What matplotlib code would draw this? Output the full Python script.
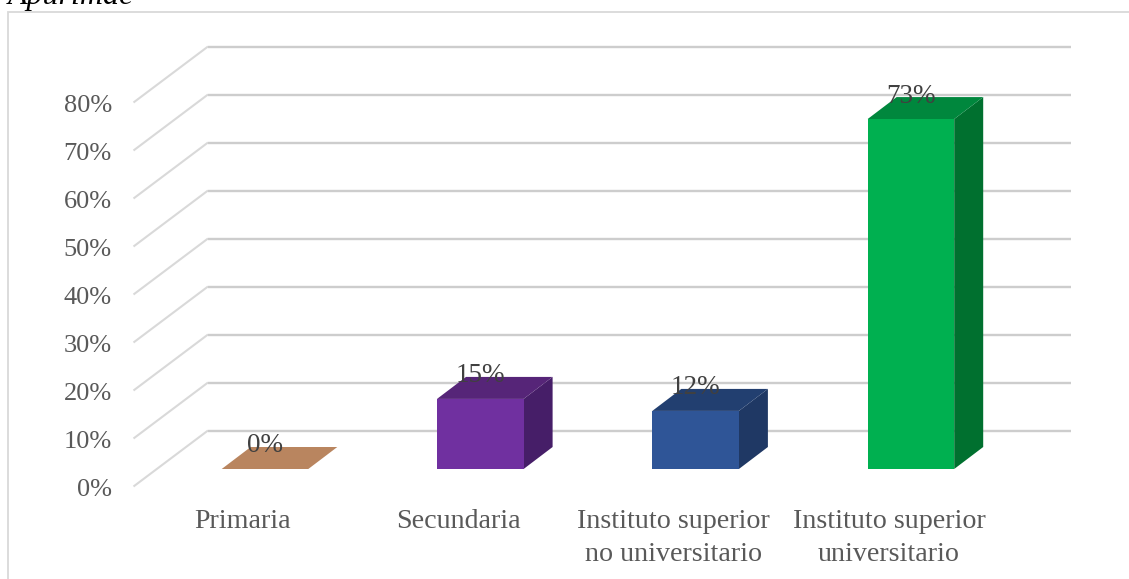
import matplotlib
matplotlib.use("Agg")
import matplotlib.pyplot as plt
from matplotlib.patches import Polygon

categories = ["Primaria", "Secundaria", "Instituto superior\nno universitario", "Instituto superior\nuniversitario"]
values = [0, 14.6, 12.1, 72.9]
value_labels = ["0%", "15%", "12%", "73%"]
axis_ticks = [0, 10, 20, 30, 40, 50, 60, 70, 80]
front_colors = ["#B9855F", "#7030A0", "#2F5597", "#00B050"]
top_colors = ["#B9855F", "#562578", "#223F70", "#00873D"]
side_colors = ["#B9855F", "#461E68", "#1F3864", "#00702F"]

W, H = 1129, 579
PX_PER_PCT = 4.8
PX_PER_CAT = 215.3
X0_PX, Y0_PX = 265.0, 469.0
dx = lambda p: p / PX_PER_CAT
dy = lambda p: p / PX_PER_PCT

plt.rcParams["font.family"] = ["Liberation Serif", "DejaVu Serif"]
fig = plt.figure(figsize=(W / 100, H / 100), dpi=100, facecolor="white")
ax = fig.add_axes([0, 0, 1, 1])
ax.set_xlim(dx(0 - X0_PX), dx(W - X0_PX))
ax.set_ylim(dy(Y0_PX - H), dy(Y0_PX))
ax.axis("off")

# frame of the chart
frame_x = dx(8.5 - X0_PX)
frame_y = dy(Y0_PX - 12)
ax.plot([frame_x, frame_x, dx(W - X0_PX)], [dy(Y0_PX - H), frame_y, frame_y],
        color="#D9D9D9", lw=1.3, solid_joinstyle="miter", zorder=1)

# 3-D wall offsets relative to the bars' front plane
wall_front_x = dx(133.5 - X0_PX)
wall_back_x = dx(208 - X0_PX)
wall_right_x = dx(1071 - X0_PX)
floor_front = dy(-17.5)
floor_back = dy(38.5)
for t in axis_ticks:
    ax.plot([wall_front_x, wall_back_x], [t + floor_front, t + floor_back],
            color="#D9D9D9", lw=1.5, solid_capstyle="butt", zorder=2)
    ax.plot([wall_back_x, wall_right_x], [t + floor_back, t + floor_back],
            color="#CDCDCD", lw=1.7, solid_capstyle="butt", zorder=2)
    ax.text(dx(112 - X0_PX), t + floor_front - dy(0.5), f"{t}%", ha="right", va="center_baseline",
            fontsize=19, color="#595959", zorder=5)

# bars
half = dx(43.3)
depth_x = dx(29)
depth_y = dy(22)
for i, (v, lab) in enumerate(zip(values, value_labels)):
    l, r = i - half, i + half
    ax.add_patch(Polygon([(r, 0), (r + depth_x, depth_y), (r + depth_x, v + depth_y), (r, v)],
                         closed=True, fc=side_colors[i], ec="none", zorder=3))
    ax.add_patch(Polygon([(l, v), (r, v), (r + depth_x, v + depth_y), (l + depth_x, v + depth_y)],
                         closed=True, fc=top_colors[i], ec="none", zorder=3))
    if v > 0:
        ax.add_patch(Polygon([(l, 0), (r, 0), (r, v), (l, v)],
                             closed=True, fc=front_colors[i], ec="none", zorder=4))
    ax.text(i, v + dy(26), lab, ha="center", va="center_baseline",
            fontsize=19.5, color="#404040", zorder=6)

# category labels
for i, c in enumerate(categories):
    ax.text(i + dx(-22), dy(-40.5), c, ha="center", va="top", fontsize=20.2,
            color="#595959", linespacing=1.38, zorder=5)

# clipped caption above the chart
ax.text(dx(8 - X0_PX), dy(Y0_PX - 4), "Apurímac", ha="left", va="baseline",
        fontsize=23, style="italic", color="#000000", zorder=5)

fig.savefig("out.png", dpi=100)
